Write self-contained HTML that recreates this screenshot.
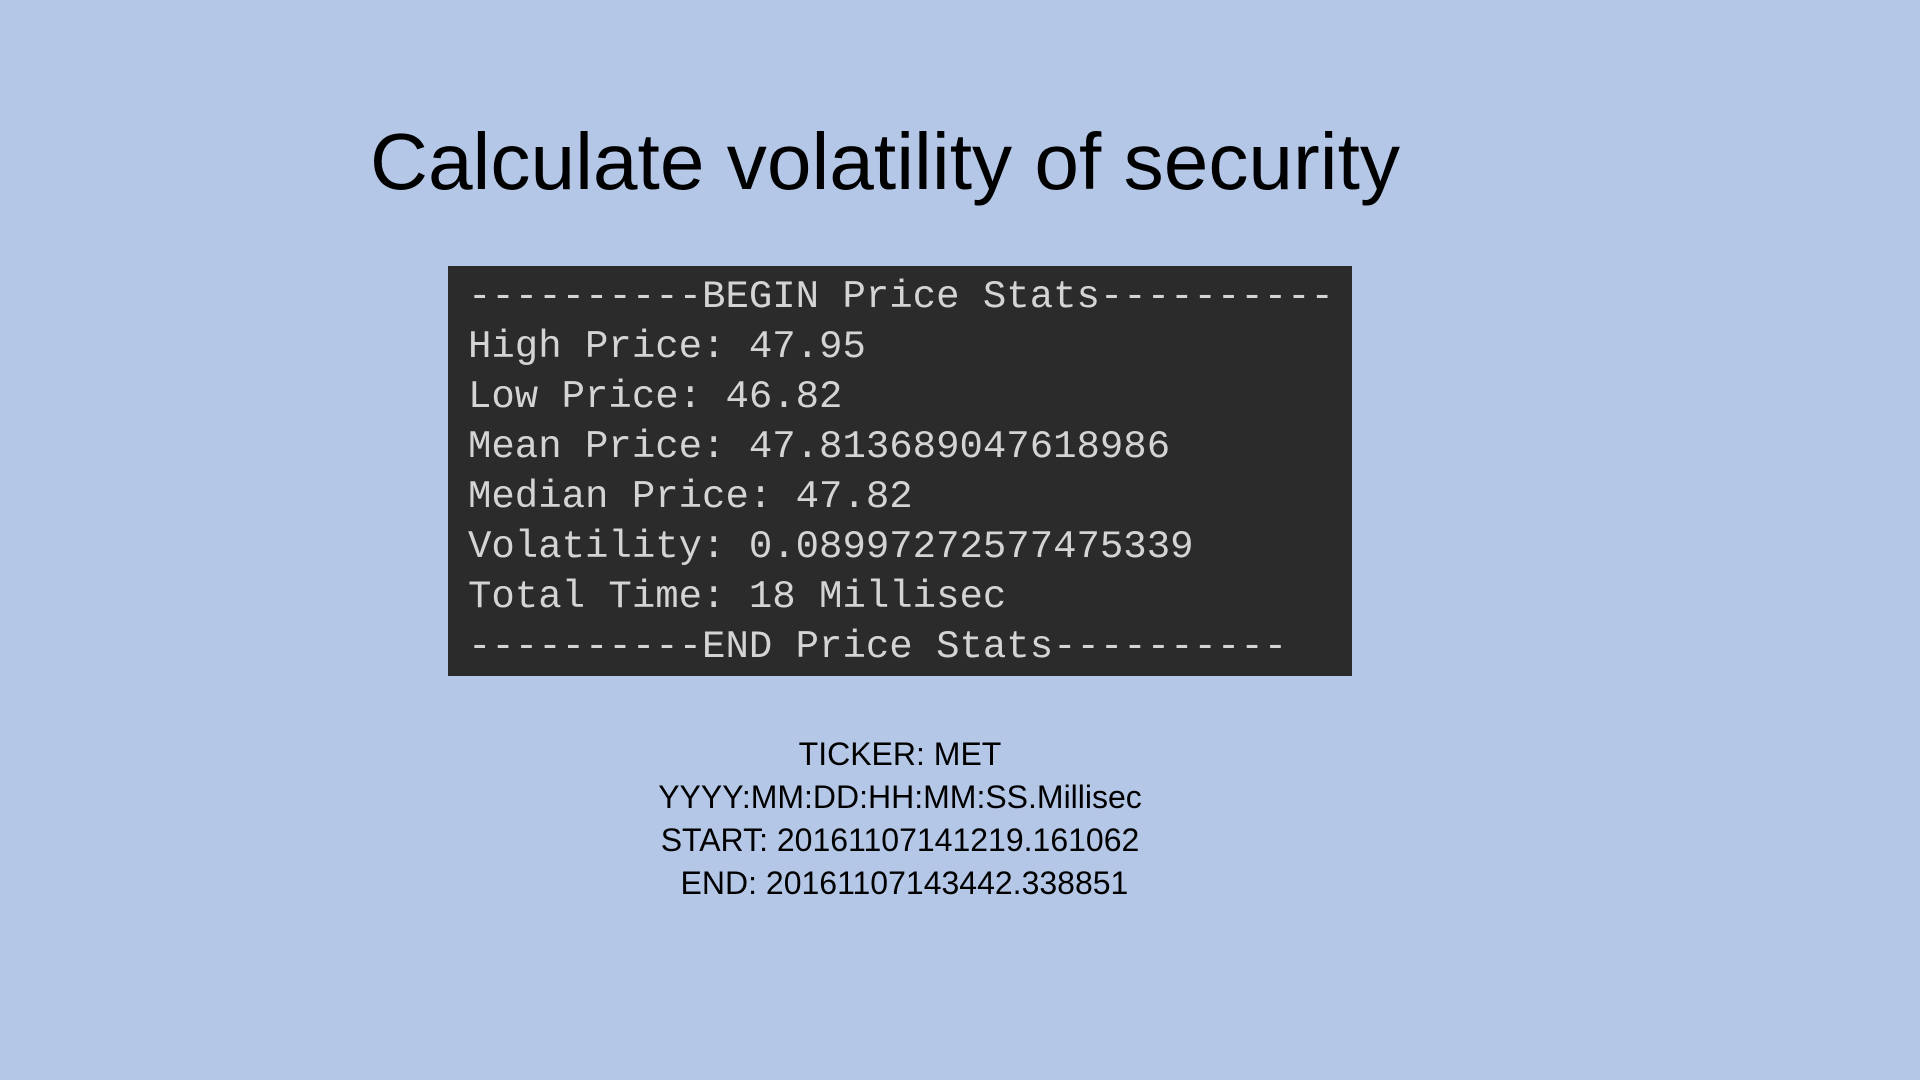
<!DOCTYPE html>
<html>
<head>
<meta charset="utf-8">
<style>
  html,body{margin:0;padding:0;}
  body{width:1920px;height:1080px;background:#b4c7e7;position:relative;overflow:hidden;font-family:"Liberation Sans",sans-serif;}
  #title{position:absolute;left:0;top:0;}
  #terminal{position:absolute;left:448px;top:266px;width:904px;height:410px;background:#2b2b2b;}
  .tline{position:absolute;left:20px;height:50px;line-height:50px;font-family:"Liberation Mono",monospace;font-size:39px;color:#d4d4d4;white-space:pre;}
  .info{position:absolute;left:0;width:1800px;text-align:center;height:43px;line-height:43px;font-size:32px;color:#000;}
</style>
</head>
<body>
<svg id="title" width="1920" height="260">
  <text x="370" y="189" font-family="Liberation Sans, sans-serif" font-size="80" fill="#000" textLength="1030" lengthAdjust="spacingAndGlyphs">Calculate volatility of security</text>
</svg>
<div id="terminal">
  <div class="tline" style="top:6px">----------BEGIN Price Stats----------</div>
  <div class="tline" style="top:56px">High Price: 47.95</div>
  <div class="tline" style="top:106px">Low Price: 46.82</div>
  <div class="tline" style="top:156px">Mean Price: 47.813689047618986</div>
  <div class="tline" style="top:206px">Median Price: 47.82</div>
  <div class="tline" style="top:256px">Volatility: 0.08997272577475339</div>
  <div class="tline" style="top:306px">Total Time: 18 Millisec</div>
  <div class="tline" style="top:356px">----------END Price Stats----------</div>
</div>
<div class="info" style="top:733px">TICKER: MET</div>
<div class="info" style="top:776px">YYYY:MM:DD:HH:MM:SS.Millisec</div>
<div class="info" style="top:819px">START: 20161107141219.161062</div>
<div class="info" style="top:862px">&nbsp;END: 20161107143442.338851</div>
</body>
</html>
